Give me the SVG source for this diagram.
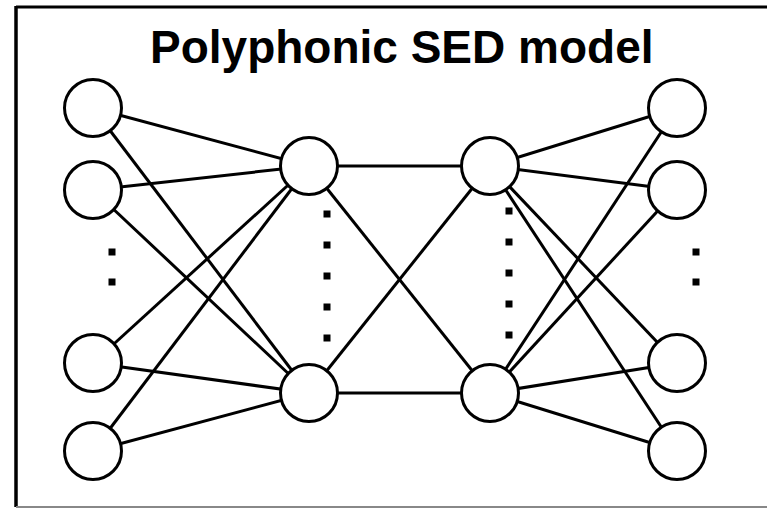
<svg xmlns="http://www.w3.org/2000/svg" width="767" height="508" viewBox="0 0 767 508">
<style>
.n{fill:#fff;stroke:#000;stroke-width:3}
.e line{stroke:#000;stroke-width:3}
.d{fill:#000}
.t{font-family:"Liberation Sans",Arial,sans-serif;font-weight:bold;font-size:46px;fill:#000}
</style>
<rect width="767" height="508" fill="#fff"/>
<line x1="16" y1="7" x2="767" y2="7" stroke="#000" stroke-width="3"/>
<line x1="16" y1="6" x2="16" y2="507" stroke="#000" stroke-width="3.5"/>
<line x1="16" y1="507" x2="767" y2="507" stroke="#888" stroke-width="2"/>
<text class="t" x="150" y="63">Polyphonic SED model</text>
<g id="connectors" class="e">
<line x1="93" y1="108" x2="309" y2="166"/>
<line x1="93" y1="108" x2="309" y2="393"/>
<line x1="93" y1="190" x2="309" y2="166"/>
<line x1="93" y1="190" x2="309" y2="393"/>
<line x1="93" y1="363" x2="309" y2="166"/>
<line x1="93" y1="363" x2="309" y2="393"/>
<line x1="93" y1="451" x2="309" y2="166"/>
<line x1="93" y1="451" x2="309" y2="393"/>
<line x1="309" y1="166" x2="490" y2="166"/>
<line x1="309" y1="166" x2="490" y2="393"/>
<line x1="309" y1="393" x2="490" y2="166"/>
<line x1="309" y1="393" x2="490" y2="393"/>
<line x1="490" y1="166" x2="677" y2="108"/>
<line x1="490" y1="166" x2="677" y2="190"/>
<line x1="490" y1="166" x2="677" y2="363"/>
<line x1="490" y1="166" x2="677" y2="451"/>
<line x1="490" y1="393" x2="677" y2="108"/>
<line x1="490" y1="393" x2="677" y2="190"/>
<line x1="490" y1="393" x2="677" y2="363"/>
<line x1="490" y1="393" x2="677" y2="451"/>
</g>
<g id="in1"><circle class="n" cx="93" cy="108" r="28.5"/></g>
<g id="in2"><circle class="n" cx="93" cy="190" r="28.5"/></g>
<g id="in3"><circle class="n" cx="93" cy="363" r="28.5"/></g>
<g id="in4"><circle class="n" cx="93" cy="451" r="28.5"/></g>
<g id="h1a"><circle class="n" cx="309" cy="166" r="28.5"/></g>
<g id="h1b"><circle class="n" cx="309" cy="393" r="28.5"/></g>
<g id="h2a"><circle class="n" cx="490" cy="166" r="28.5"/></g>
<g id="h2b"><circle class="n" cx="490" cy="393" r="28.5"/></g>
<g id="out1"><circle class="n" cx="677" cy="108" r="28.5"/></g>
<g id="out2"><circle class="n" cx="677" cy="190" r="28.5"/></g>
<g id="out3"><circle class="n" cx="677" cy="363" r="28.5"/></g>
<g id="out4"><circle class="n" cx="677" cy="451" r="28.5"/></g>
<g id="dots" class="d">
<rect x="108.5" y="248.5" width="7" height="7"/>
<rect x="108.5" y="278.5" width="7" height="7"/>
<rect x="692.5" y="248.5" width="7" height="7"/>
<rect x="692.5" y="278.5" width="7" height="7"/>
<rect x="323.5" y="210.5" width="7" height="7"/>
<rect x="323.5" y="241.5" width="7" height="7"/>
<rect x="323.5" y="272.5" width="7" height="7"/>
<rect x="323.5" y="303.5" width="7" height="7"/>
<rect x="323.5" y="334.5" width="7" height="7"/>
<rect x="505.5" y="207.5" width="7" height="7"/>
<rect x="505.5" y="238.5" width="7" height="7"/>
<rect x="505.5" y="269.5" width="7" height="7"/>
<rect x="505.5" y="300.5" width="7" height="7"/>
<rect x="505.5" y="331.5" width="7" height="7"/>
</g>
</svg>
